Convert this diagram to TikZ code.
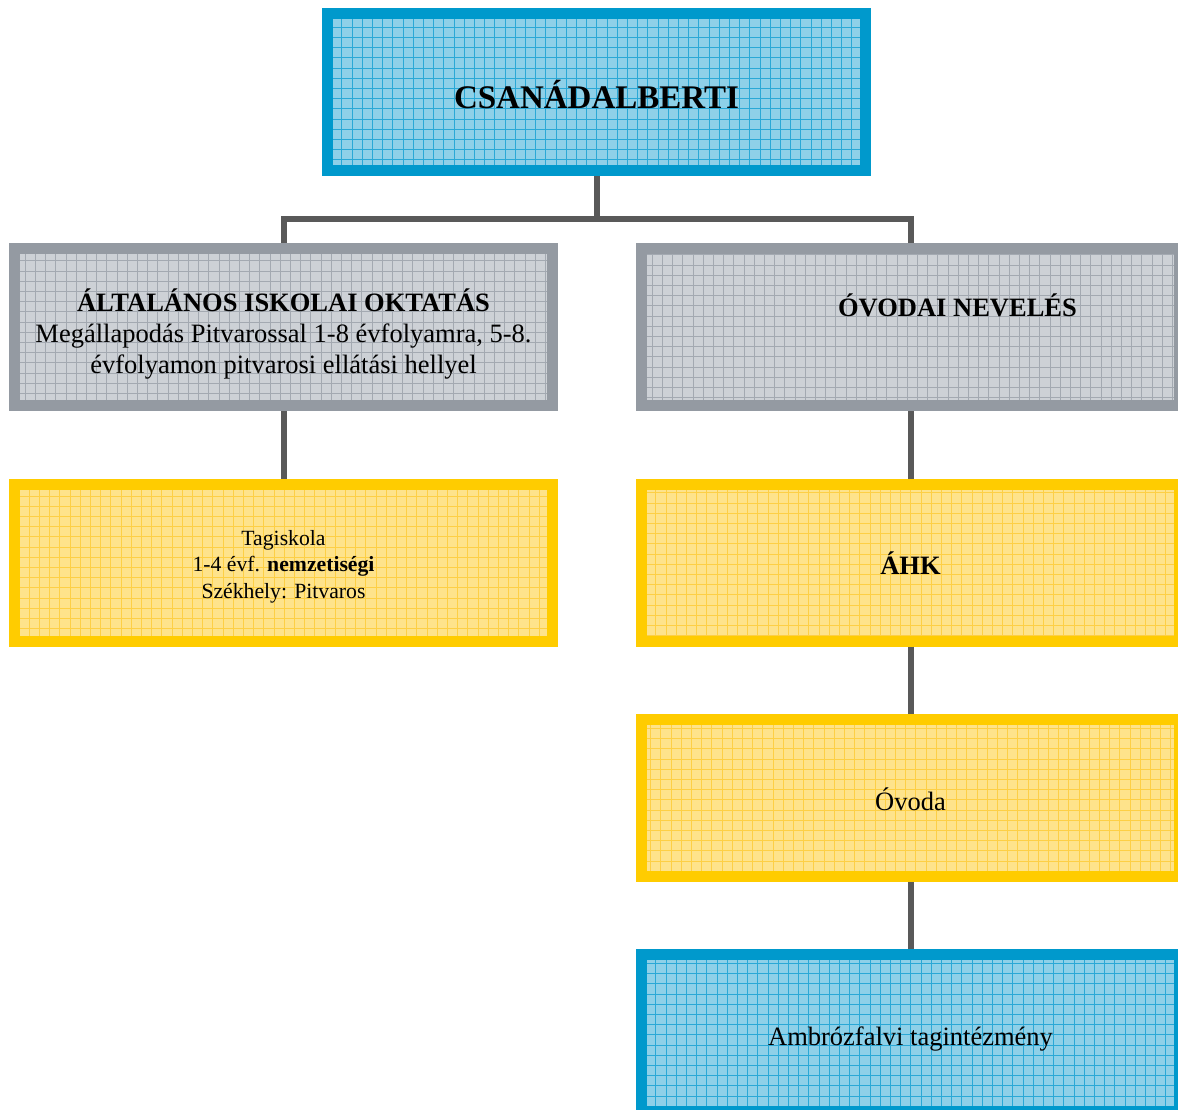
\documentclass[tikz,border=0pt]{standalone}
\usepackage{fontspec}
\setmainfont{Liberation Serif}
\definecolor{bluebd}{HTML}{0099CC}
\definecolor{bluefill}{HTML}{8ED0E8}
\definecolor{bluegrid}{HTML}{2AA8D6}
\definecolor{graybd}{HTML}{949AA2}
\definecolor{grayfill}{HTML}{CDD1D6}
\definecolor{graygrid}{HTML}{A3A9B1}
\definecolor{yellowbd}{HTML}{FFCC00}
\definecolor{yellowfill}{HTML}{FEE38B}
\definecolor{yellowgrid}{HTML}{FDCF45}
\definecolor{linkgray}{HTML}{595959}
\begin{document}
\begin{tikzpicture}[x=1pt,y=-1pt,
    box/.style n args={3}{rectangle, draw=#1, fill=#2, line width=11pt,
      minimum width=538pt, minimum height=157pt, inner sep=0pt, align=center,
      font=\fontsize{26.5}{31}\selectfont,
      path picture={\draw[#3, line width=1pt]
        (path picture bounding box.south west) grid[step=10.2pt]
        (path picture bounding box.north east);}},
    bluebox/.style={box={bluebd}{bluefill}{bluegrid}},
    graybox/.style={box={graybd}{grayfill}{graygrid}},
    yellowbox/.style={box={yellowbd}{yellowfill}{yellowgrid}},
    oneline/.style={text height=24pt, text depth=0pt}]
  \useasboundingbox (0,0) rectangle (1178,1110);
  \draw
    (596.5,92) node[bluebox, text height=34pt, text depth=0pt,
      font=\fontsize{33}{38}\selectfont\bfseries] (top) {CSANÁDALBERTI}
    (283.5,327) node[graybox] (iskola) {\rule{0pt}{36pt}\textbf{ÁLTALÁNOS ISKOLAI OKTATÁS}\\
      Megállapodás Pitvarossal 1-8 évfolyamra, 5-8.\\
      évfolyamon pitvarosi ellátási hellyel}
    (910.5,327) node[graybox, text height=24pt, text depth=46pt] (ovodai)
      {\hspace*{94pt}\textbf{ÓVODAI NEVELÉS}}
    (283.5,562.5) node[yellowbox, font=\fontsize{21.7}{26.5}\selectfont] (tagisk)
      {\rule{0pt}{23pt}Tagiskola\\ 1-4 évf. \textbf{nemzetiségi}\\ Székhely: Pitvaros}
    (910.5,562.5) node[yellowbox, oneline] (ahk) {\textbf{ÁHK}}
    (910.5,798) node[yellowbox, oneline] (ovoda) {Óvoda}
    (910.5,1033) node[bluebox, oneline] (ambroz) {Ambrózfalvi tagintézmény};
  \begin{scope}[line width=6pt, draw=linkgray]
    \draw (top.south) -- ++(0,43) coordinate (split) -| (iskola.north);
    \draw (split) -| (ovodai.north);
    \draw (iskola.south) to (tagisk.north);
    \draw (ovodai.south) to (ahk.north);
    \draw (ahk.south) to (ovoda.north);
    \draw (ovoda.south) to (ambroz.north);
  \end{scope}
\end{tikzpicture}
\end{document}
